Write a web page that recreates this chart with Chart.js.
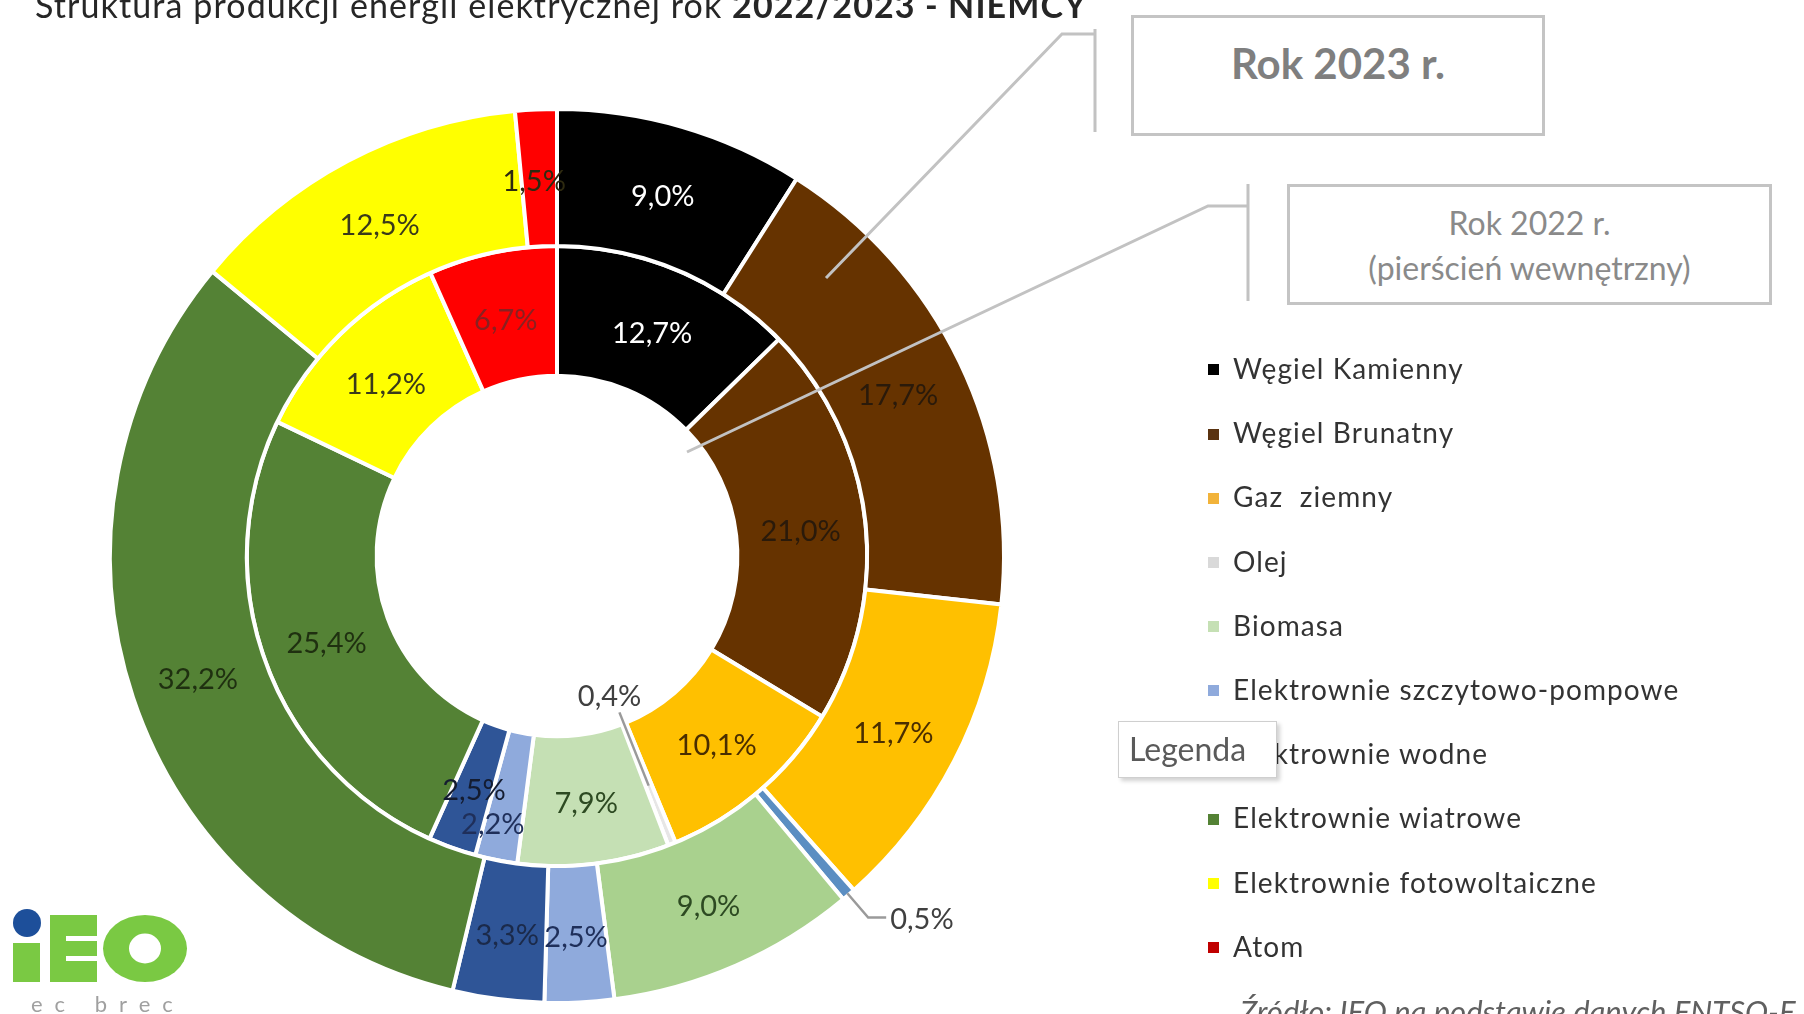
<!DOCTYPE html>
<html lang="pl">
<head>
<meta charset="utf-8">
<title>Struktura produkcji energii elektrycznej 2022/2023 - Niemcy</title>
<script src="https://cdn.jsdelivr.net/npm/chart.js@4.4.0/dist/chart.umd.min.js"></script>
<style>
  html, body { margin: 0; padding: 0; background: #fff; }
  body { width: 1804px; height: 1014px; position: relative; overflow: hidden; font-family: Lato, "Open Sans", sans-serif; }
  #chart { position: absolute; left: 0; top: 0; }
  .title { position: absolute; left: 35px; top: -16px; font-size: 34px; letter-spacing: 1.1px; color: #262626; white-space: pre; }
  .box { position: absolute; border: 3px solid #c4c4c4; background: #fff; box-sizing: border-box; text-align: center; color: #7f7f7f; }
  #box2023 { left: 1131px; top: 15px; width: 414px; height: 121px; font-size: 42px; font-weight: bold; padding-top: 20px; }
  #box2022 { left: 1287px; top: 184px; width: 485px; height: 121px; font-size: 32px; line-height: 45px; padding-top: 13px; color: #8a8a8a; }
  #legend { position: absolute; left: 1208px; top: 346px; margin: 0; padding: 0; list-style: none; }
  #legend li { height: 64.2px; line-height: 44px; font-size: 28px; letter-spacing: 1.1px; color: #333; white-space: pre; }
  #legend li span.mark { display: inline-block; width: 11px; height: 11px; margin-right: 14px; vertical-align: middle; position: relative; top: -2px; }
  .popup { position: absolute; left: 1118px; top: 721px; width: 159px; height: 57px; box-sizing: border-box; background: #fff; border: 1px solid #cfcfcf; box-shadow: 3px 3px 4px rgba(0,0,0,0.18); font-size: 32px; line-height: 53px; padding-left: 10px; color: #5a5a5a; }
  .source { position: absolute; left: 1240px; top: 992px; font-size: 31px; font-style: italic; color: #606060; white-space: nowrap; }
  #logo { position: absolute; left: 0; top: 880px; }
</style>
</head>
<body>
<canvas id="chart" width="1804" height="1014"></canvas>
<div class="title">Struktura produkcji energii elektrycznej rok <b>2022/2023 - NIEMCY</b></div>
<div class="box" id="box2023">Rok 2023 r.</div>
<div class="box" id="box2022">Rok 2022 r.<br>(pierścień wewnętrzny)</div>
<ul id="legend"></ul>
<div class="popup">Legenda</div>
<div class="source">Źródło: IEO na podstawie danych ENTSO-E</div>
<svg id="logo" width="240" height="134" viewBox="0 880 240 134">
  <circle cx="27" cy="923" r="14" fill="#1d4f9a"/>
  <rect x="13" y="943" width="27" height="39" fill="#7ac943"/>
  <rect x="50" y="915" width="47" height="67" fill="#7ac943"/>
  <rect x="66" y="936" width="31" height="5" fill="#fff"/>
  <rect x="66" y="956" width="31" height="5" fill="#fff"/>
  <ellipse cx="145" cy="948.5" rx="42" ry="33.5" fill="#7ac943"/>
  <ellipse cx="145" cy="948.5" rx="16" ry="15" fill="#fff"/>
  <text x="31" y="1012" font-family="Lato, sans-serif" font-size="22" fill="#a0a0a0" letter-spacing="12">ec brec</text>
</svg>

<script>
// Udział źródeł w produkcji energii elektrycznej w Niemczech [%]
const categories = ['Węgiel Kamienny', 'Węgiel Brunatny', 'Gaz  ziemny', 'Olej', 'Biomasa',
  'Elektrownie szczytowo-pompowe', 'Elektrownie wodne', 'Elektrownie wiatrowe',
  'Elektrownie fotowoltaiczne', 'Atom'];
const values2023 = [9.0, 17.7, 11.7, 0.5, 9.0, 2.5, 3.3, 32.2, 12.5, 1.5];
const values2022 = [12.7, 21.0, 10.1, 0.4, 7.9, 2.2, 2.5, 25.4, 11.2, 6.7];

const colors2023 = ['#000000', '#663300', '#FFC000', '#5B8EC2', '#A9D18E', '#8FAADC', '#2F5597', '#548235', '#FFFF00', '#FF0000'];
const colors2022 = ['#000000', '#663300', '#FFC000', '#E7E6E6', '#C5E0B4', '#8FAADC', '#2F5597', '#548235', '#FFFF00', '#FF0000'];
const legendColors = ['#000000', '#5a3210', '#F2B33A', '#D9D9D9', '#C5E0B4', '#8FAADC', '#2F5597', '#548235', '#FFFF00', '#C00000'];
const textColors2023 = ['#ffffff', '#2a1a0a', '#4a2e00', '#404040', '#2d4a22', '#1f2f5a', '#1b2a4a', '#1f3010', '#3a3a1a', '#2e2a10'];
const textColors2022 = ['#ffffff', '#2a1a0a', '#4a2e00', '#404040', '#2d4a22', '#1f2f5a', '#141c30', '#1f3010', '#3a3a1a', '#8a2020'];

// drobne przesunięcia etykiet, żeby nie nachodziły na siebie
const labelNudge2022 = { 5: [-16, 24] };
const labelNudge2023 = { 9: [-5, 0] };

// legenda po prawej stronie
const legend = document.getElementById('legend');
categories.forEach((name, i) => {
  const li = document.createElement('li');
  li.innerHTML = '<span class="mark" style="background:' + legendColors[i] + '"></span>' + name;
  legend.appendChild(li);
});

function fmt(v) {
  return v.toFixed(1).replace('.', ',') + '%';
}

// etykiety procentowe na wycinkach + linie odniesienia
const sliceLabels = {
  id: 'sliceLabels',
  afterDatasetsDraw(chart) {
    const ctx = chart.ctx;
    ctx.save();
    ctx.font = '29px Lato, "Open Sans", sans-serif';
    ctx.textBaseline = 'middle';
    chart.data.datasets.forEach((ds, di) => {
      const meta = chart.getDatasetMeta(di);
      meta.data.forEach((arc, i) => {
        const p = arc.getProps(['x', 'y', 'startAngle', 'endAngle', 'innerRadius', 'outerRadius'], true);
        const mid = (p.startAngle + p.endAngle) / 2;
        const cos = Math.cos(mid), sin = Math.sin(mid);
        const text = fmt(ds.data[i]);
        ctx.fillStyle = ds.labelColors[i];
        if (ds.data[i] < 1) {
          ctx.strokeStyle = '#9a9a9a';
          ctx.lineWidth = 2.5;
          ctx.beginPath();
          if (di === 0) {
            // na zewnątrz pierścienia
            const r0 = p.outerRadius - 2, r1 = p.outerRadius + 30;
            const ex = p.x + r1 * cos, ey = p.y + r1 * sin;
            ctx.moveTo(p.x + r0 * cos, p.y + r0 * sin);
            ctx.lineTo(ex, ey);
            ctx.lineTo(ex + 18, ey);
            ctx.stroke();
            ctx.textAlign = 'left';
            ctx.fillText(text, ex + 22, ey + 2);
          } else {
            // do środka, w otwór pierścienia
            const r0 = (p.innerRadius + p.outerRadius) / 2 + 2, r1 = p.innerRadius - 12;
            ctx.moveTo(p.x + r0 * cos, p.y + r0 * sin);
            ctx.lineTo(p.x + r1 * cos, p.y + r1 * sin);
            ctx.stroke();
            const rl = p.innerRadius - 44;
            ctx.textAlign = 'center';
            ctx.fillText(text, p.x + rl * cos + 2, p.y + rl * sin + 14);
          }
          return;
        }
        const r = (p.innerRadius + p.outerRadius) / 2;
        const nudge = (ds.labelNudge && ds.labelNudge[i]) || [0, 0];
        ctx.textAlign = 'center';
        ctx.fillText(text, p.x + r * cos + nudge[0], p.y + r * sin + 4 + nudge[1]);
      });
    });
    ctx.restore();
  }
};

// łączniki od ramek z opisem roku
const boxConnectors = {
  id: 'boxConnectors',
  afterDraw(chart) {
    const ctx = chart.ctx;
    ctx.save();
    ctx.strokeStyle = '#c2c2c2';
    ctx.lineWidth = 3;
    ctx.beginPath();
    ctx.moveTo(1095, 29); ctx.lineTo(1095, 132);
    ctx.moveTo(826, 278); ctx.lineTo(1062, 34); ctx.lineTo(1095, 34);
    ctx.moveTo(1248, 184); ctx.lineTo(1248, 301);
    ctx.moveTo(687, 452); ctx.lineTo(1208, 206); ctx.lineTo(1248, 206);
    ctx.stroke();
    ctx.restore();
  }
};

new Chart(document.getElementById('chart'), {
  type: 'doughnut',
  data: {
    labels: categories,
    datasets: [
      { label: '2023', data: values2023, backgroundColor: colors2023, labelColors: textColors2023,
        labelNudge: labelNudge2023, borderColor: '#ffffff', borderWidth: 4, weight: 1.055, clip: false },
      { label: '2022', data: values2022, backgroundColor: colors2022, labelColors: textColors2022,
        labelNudge: labelNudge2022, borderColor: '#ffffff', borderWidth: 4, weight: 1, clip: false }
    ]
  },
  options: {
    responsive: false,
    animation: false,
    radius: 447,
    cutout: 184,
    layout: { padding: { left: 0, right: 690, top: 98, bottom: 0 } },
    plugins: {
      legend: { display: false },
      tooltip: { enabled: false }
    },
    hoverOffset: 0
  },
  plugins: [sliceLabels, boxConnectors]
});
</script>
</body>
</html>
